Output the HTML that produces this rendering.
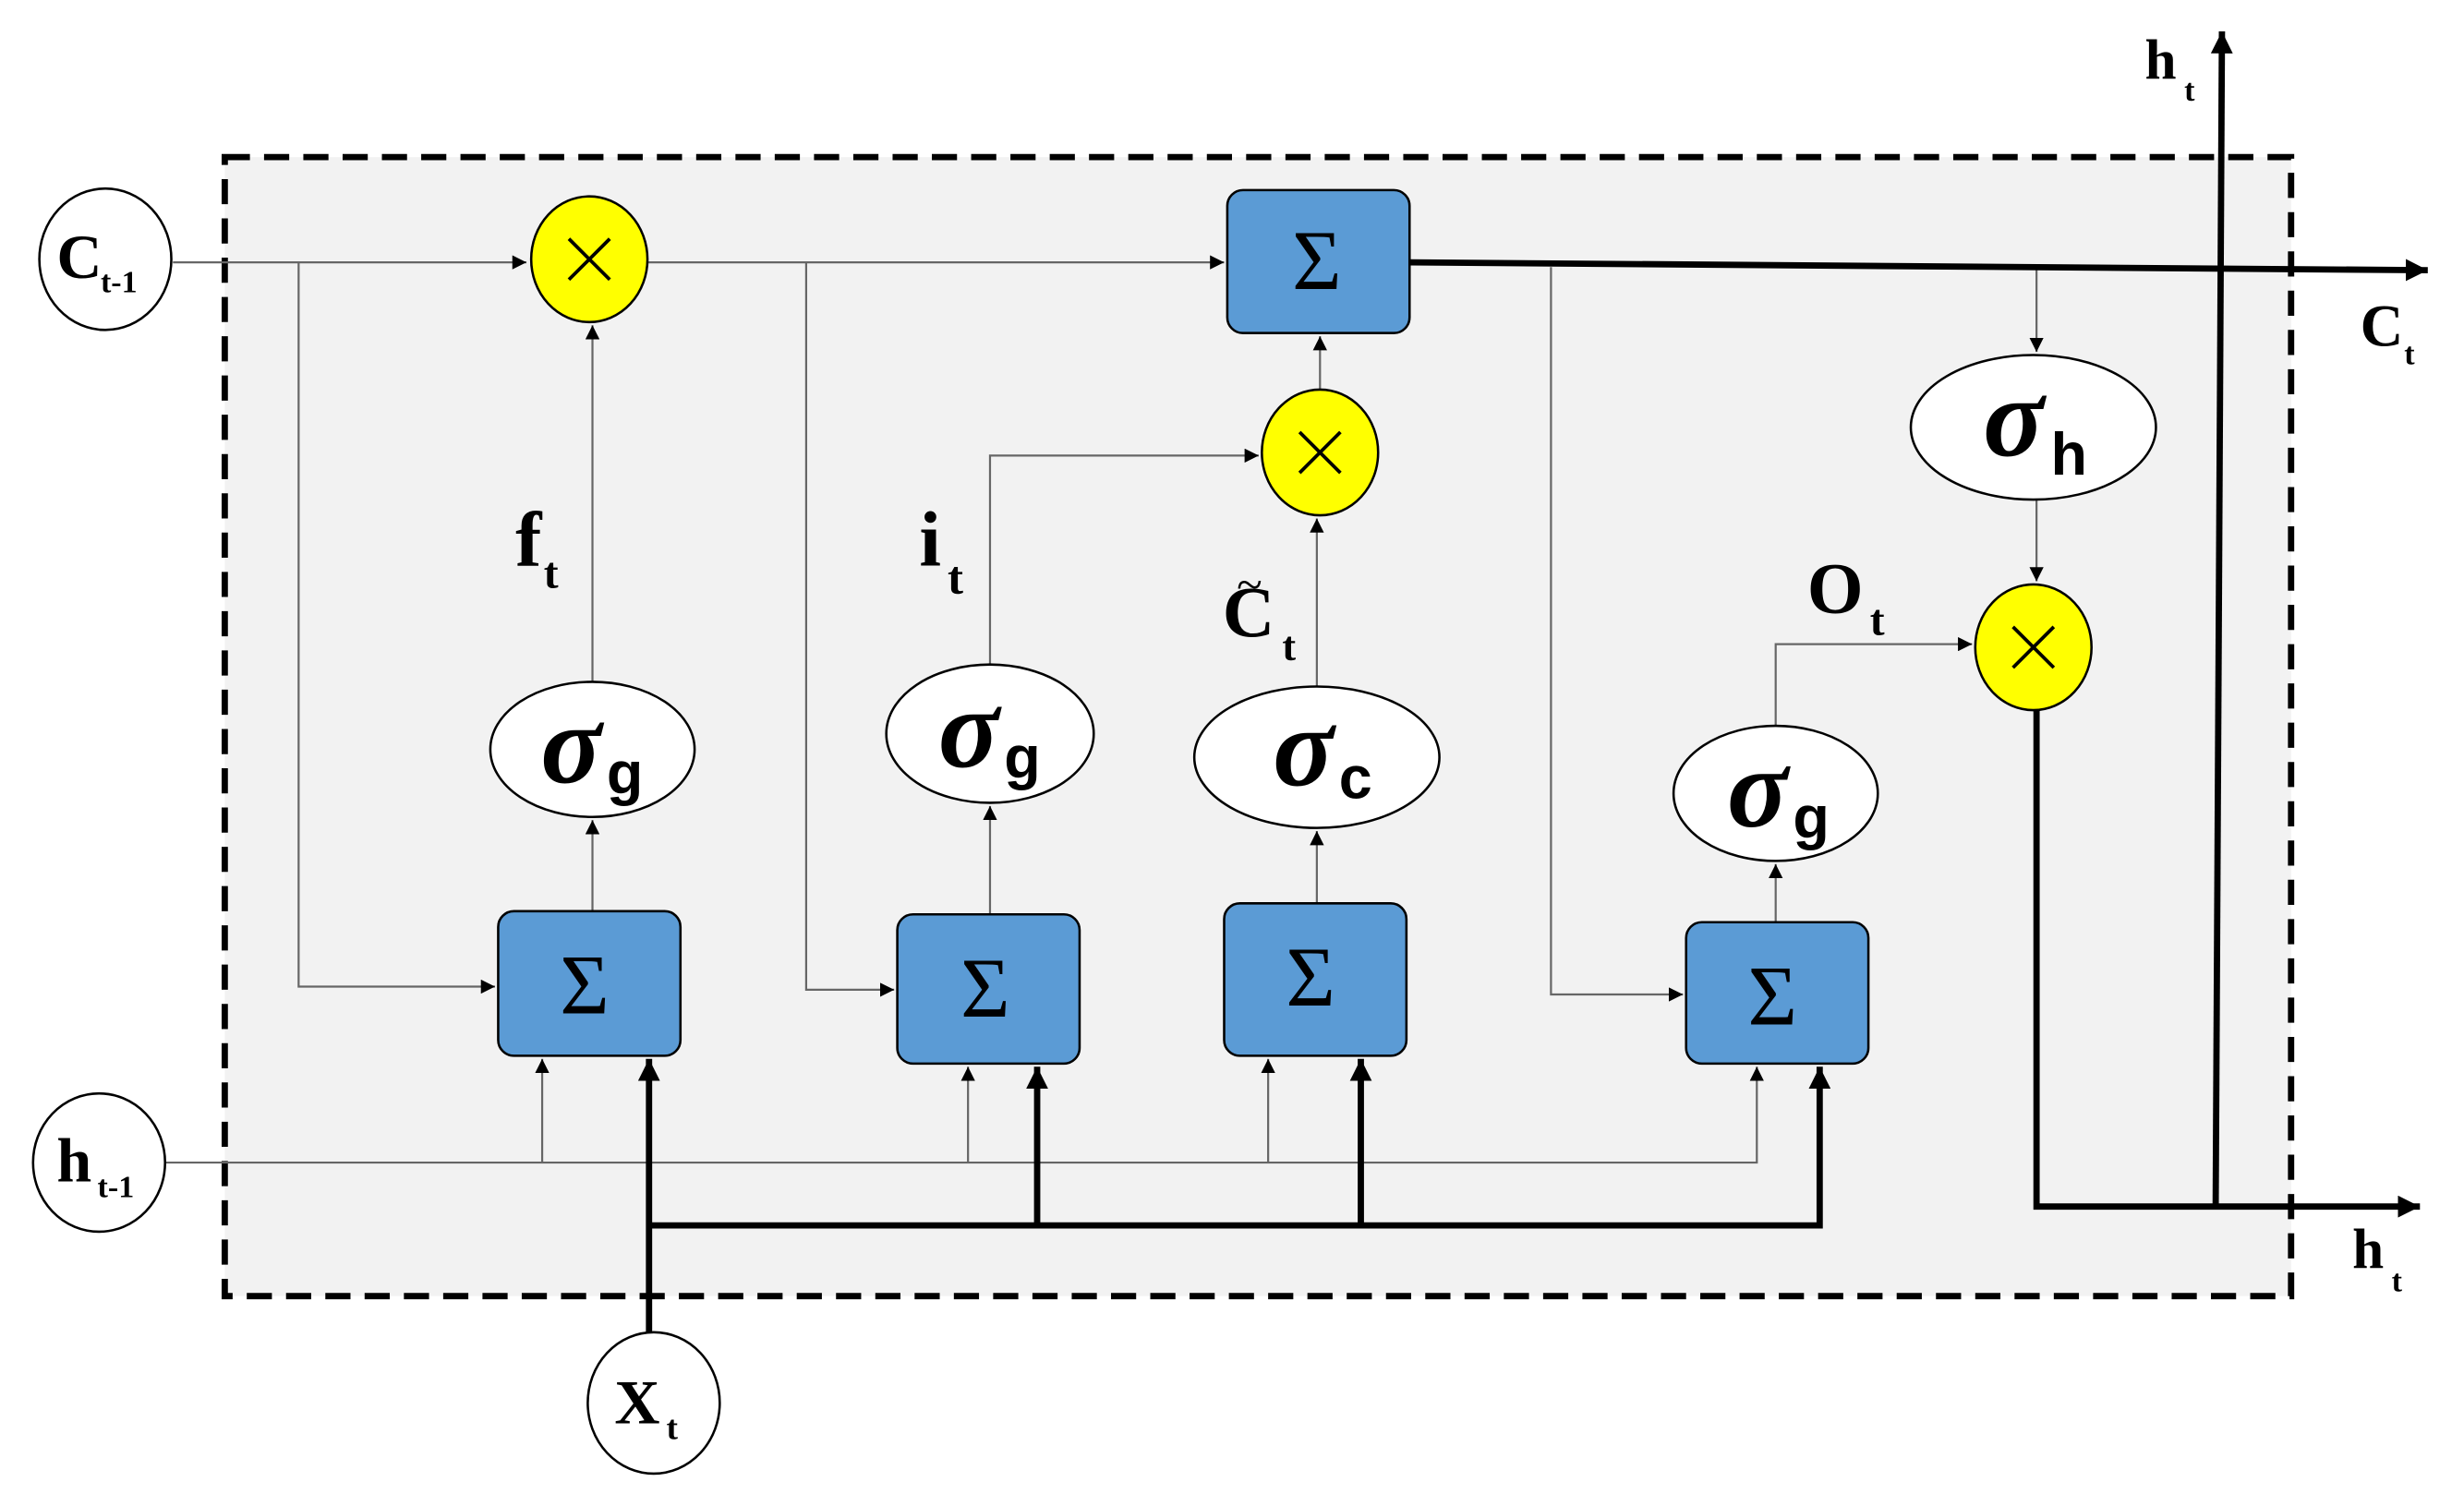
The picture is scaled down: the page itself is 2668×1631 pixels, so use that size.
<!DOCTYPE html>
<html><head><meta charset="utf-8"><style>
html,body{margin:0;padding:0;background:#fff;}
svg{display:block;}
text{font-family:"Liberation Serif",serif;font-weight:bold;fill:#000;}
.sig{font-family:"Liberation Serif",serif;font-style:italic;}
.sub{font-family:"Liberation Sans",sans-serif;}
.S{font-family:"Liberation Serif",serif;font-weight:normal;}
</style></head><body>
<svg width="2668" height="1631" viewBox="0 0 1568 958.6" xmlns="http://www.w3.org/2000/svg">
<defs>
<marker id="a" viewBox="0 0 10 10" refX="10" refY="5" markerWidth="9" markerHeight="9" markerUnits="userSpaceOnUse" orient="auto"><path d="M0,0 L10,5 L0,10z" fill="#000"/></marker>
<marker id="b" viewBox="0 0 10 10" refX="10" refY="5" markerWidth="14" markerHeight="14" markerUnits="userSpaceOnUse" orient="auto"><path d="M0,0 L10,5 L0,10z" fill="#000"/></marker>
</defs>
<rect x="143" y="100" width="1315" height="725" fill="#f2f2f2" stroke="#000" stroke-width="4" stroke-dasharray="16,9"/>

<g stroke="#666" stroke-width="1.3" fill="none">
<path d="M110,167 H335" marker-end="url(#a)"/>
<path d="M190,167 V628 H315" marker-end="url(#a)"/>
<path d="M412,167 H779" marker-end="url(#a)"/>
<path d="M513,167 V630 H569" marker-end="url(#a)"/>
<path d="M987,170 V633 H1071" marker-end="url(#a)"/>
<path d="M377,580 V522" marker-end="url(#a)"/>
<path d="M377,434 V207" marker-end="url(#a)"/>
<path d="M630,582 V513" marker-end="url(#a)"/>
<path d="M630,423 V290 H801" marker-end="url(#a)"/>
<path d="M838,575 V529" marker-end="url(#a)"/>
<path d="M838,437 V330" marker-end="url(#a)"/>
<path d="M840,248 V214" marker-end="url(#a)"/>
<path d="M1130,587 V550" marker-end="url(#a)"/>
<path d="M1130,462 V410 H1255" marker-end="url(#a)"/>
<path d="M1296,170 V224" marker-end="url(#a)"/>
<path d="M1296,318 V370" marker-end="url(#a)"/>
<path d="M105,740 H1118 V679" marker-end="url(#a)"/>
<path d="M345,740 V674" marker-end="url(#a)"/>
<path d="M616,740 V679" marker-end="url(#a)"/>
<path d="M807,740 V674" marker-end="url(#a)"/>
</g>
<g stroke="#000" stroke-width="4" fill="none">
<path d="M897,167 L1545,172" marker-end="url(#b)"/>
<path d="M1296,452 V768 H1540" marker-end="url(#b)"/>
<path d="M1410,768 L1414,20" marker-end="url(#b)"/>
<path d="M413,848 V674" marker-end="url(#b)"/>
<path d="M413,780 H1158 V679" marker-end="url(#b)"/>
<path d="M660,780 V679" marker-end="url(#b)"/>
<path d="M866,780 V674" marker-end="url(#b)"/>
</g>

<g fill="#5b9bd5" stroke="#000" stroke-width="1.5">
<rect x="317" y="580" width="116" height="92" rx="10"/>
<rect x="571" y="582" width="116" height="95" rx="10"/>
<rect x="779" y="575" width="116" height="97" rx="10"/>
<rect x="1073" y="587" width="116" height="90" rx="10"/>
<rect x="781" y="121" width="116" height="91" rx="10"/>
</g>
<g font-size="54" text-anchor="middle">
<text class="S" x="372" y="645">Σ</text>
<text class="S" x="627" y="647">Σ</text>
<text class="S" x="834" y="640">Σ</text>
<text class="S" x="1128" y="652">Σ</text>
<text class="S" x="838" y="184">Σ</text>
</g>

<g fill="#ffff00" stroke="#000" stroke-width="1.5">
<ellipse cx="375" cy="165" rx="37" ry="40"/>
<ellipse cx="840" cy="288" rx="37" ry="40"/>
<ellipse cx="1294" cy="412" rx="37" ry="40"/>
</g>
<g stroke="#000" stroke-width="2.2">
<path d="M362,152 L388,178 M388,152 L362,178"/>
<path d="M827,275 L853,301 M853,275 L827,301"/>
<path d="M1281,399 L1307,425 M1307,399 L1281,425"/>
</g>

<g fill="#fff" stroke="#000" stroke-width="1.5">
<ellipse cx="377" cy="477" rx="65" ry="43"/>
<ellipse cx="630" cy="467" rx="66" ry="44"/>
<ellipse cx="838" cy="482" rx="78" ry="45"/>
<ellipse cx="1130" cy="505" rx="65" ry="43"/>
<ellipse cx="1294" cy="272" rx="78" ry="46"/>
<ellipse cx="67" cy="165" rx="42" ry="45"/>
<ellipse cx="63" cy="740" rx="42" ry="44"/>
<ellipse cx="416" cy="893" rx="42" ry="45"/>
</g>
<g font-size="72">
<text class="sig" x="344" y="498">σ</text><text class="sub" x="386" y="505" font-size="38">g</text>
<text class="sig" x="597" y="488">σ</text><text class="sub" x="639" y="495" font-size="38">g</text>
<text class="sig" x="810" y="500">σ</text><text class="sub" x="852" y="508" font-size="38">c</text>
<text class="sig" x="1099" y="526">σ</text><text class="sub" x="1141" y="533" font-size="38">g</text>
<text class="sig" x="1262" y="290">σ</text><text class="sub" x="1305" y="302" font-size="38">h</text>
</g>

<g>
<text x="36" y="177" font-size="40">C</text><text x="64" y="186" font-size="20">t-1</text>
<text x="36" y="752" font-size="40">h</text><text x="62" y="762" font-size="20">t-1</text>
<text x="391" y="906" font-size="40">X</text><text x="424" y="916" font-size="22">t</text>
<text x="328" y="360" font-size="50">f</text><text x="346" y="374" font-size="28">t</text>
<text x="585" y="360" font-size="50">i</text><text x="603" y="378" font-size="30">t</text>
<text x="778" y="405" font-size="46">C</text><text x="787" y="382" font-size="30" style="font-weight:normal">~</text><text x="816" y="420" font-size="26">t</text>
<text x="1150" y="390" font-size="46">O</text><text x="1190" y="404" font-size="28">t</text>
<text x="1502" y="220" font-size="38">C</text><text x="1530" y="232" font-size="20">t</text>
<text x="1497" y="807" font-size="36">h</text><text x="1522" y="822" font-size="20">t</text>
<text x="1365" y="50" font-size="36">h</text><text x="1390" y="64" font-size="20">t</text>
</g>
</svg>
</body></html>
